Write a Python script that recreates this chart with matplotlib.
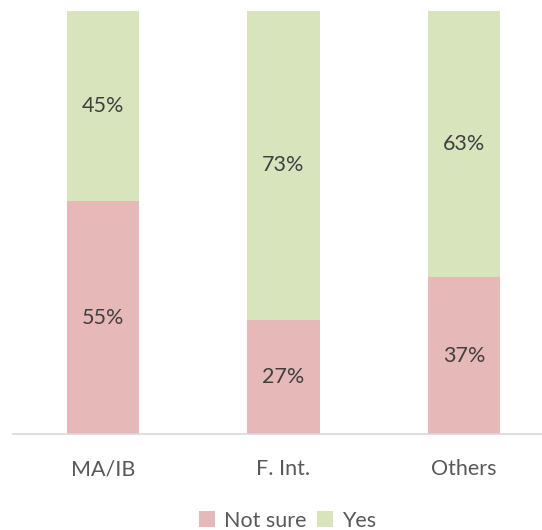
import matplotlib.pyplot as plt
import numpy as np

plt.rcParams['font.family'] = ['Lato', 'DejaVu Sans']

categories = ['MA/IB', 'F. Int.', 'Others']
not_sure = [55, 27, 37]
yes = [45, 73, 63]

PINK = '#E6B8B7'
GREEN = '#D8E4BC'
TEXT = '#404040'
AXTEXT = '#595959'
FS = 15.5

fig = plt.figure(figsize=(5.42, 5.30), dpi=100)
ax = fig.add_axes([13 / 542, 1 - 434 / 530, 541 / 542, 423 / 530])

x = np.arange(len(categories))
b1 = ax.bar(x, not_sure, width=0.4, color=PINK, label='Not sure')
b2 = ax.bar(x, yes, width=0.4, bottom=not_sure, color=GREEN, label='Yes')

for bars, vals in [(b1, not_sure), (b2, yes)]:
    ax.bar_label(bars, labels=[f'{v}%' for v in vals], label_type='center',
                 fontsize=FS, color=TEXT)

ax.set_xlim(-0.5, 2.5)
ax.set_ylim(0, 100)
ax.set_xticks(x)
ax.set_xticklabels(categories, fontsize=FS, color=AXTEXT)
ax.tick_params(axis='x', length=0, pad=18)
ax.set_yticks([])
for side in ['top', 'right', 'left']:
    ax.spines[side].set_visible(False)
ax.spines['bottom'].set_color('#D9D9D9')
ax.spines['bottom'].set_linewidth(1.2)

fig.legend(handles=[b1, b2], loc='lower center', bbox_to_anchor=(0.53, -0.038),
           ncol=2, frameon=False, fontsize=FS, handlelength=0.75,
           handleheight=0.75, handletextpad=0.4, columnspacing=0.5,
           labelcolor=AXTEXT)

fig.savefig('out.png', dpi=100)
